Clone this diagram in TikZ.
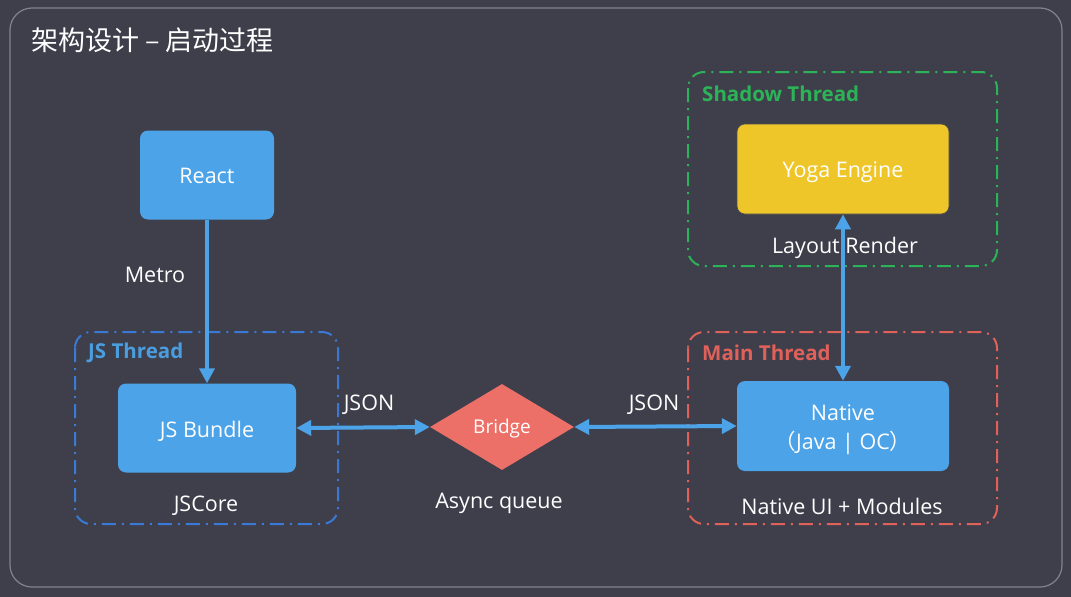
\documentclass[tikz,border=0pt]{standalone}
\usepackage{fontspec}
\setmainfont{Open Sans}
\newfontfamily\cjk{Noto Sans CJK SC}
\usetikzlibrary{shapes.geometric,arrows.meta}
\definecolor{bg}{RGB}{62,63,75}
\definecolor{frame}{RGB}{130,131,142}
\definecolor{boxblue}{RGB}{76,163,232}
\definecolor{arrblue}{RGB}{76,163,232}
\definecolor{yoga}{RGB}{238,198,42}
\definecolor{bridge}{RGB}{236,112,104}
\definecolor{jsc}{RGB}{58,121,214}
\definecolor{jsl}{RGB}{74,158,224}
\definecolor{mainc}{RGB}{224,96,90}
\definecolor{shadowc}{RGB}{45,179,87}
\tikzset{
  box/.style={draw=none,fill=boxblue,rounded corners=8pt,inner sep=0pt},
  btxt/.style={text=white,font=\fontsize{21.5}{29}\selectfont,align=center,inner sep=0pt},
  lbl/.style={text=white,font=\fontsize{21.5}{25}\selectfont,inner sep=0pt},
  grp/.style={line width=2pt,rounded corners=16pt,dash pattern=on 14pt off 6pt on 2pt off 6pt},
  glbl/.style={font=\bfseries\fontsize{20.5}{24}\selectfont,anchor=west,inner sep=0pt},
  conn/.style={draw=arrblue,line width=4pt,-{Triangle[length=15pt,width=15pt]}},
  biconn/.style={draw=arrblue,line width=4pt,{Triangle[length=15pt,width=15pt]}-{Triangle[length=15pt,width=15pt]}}
}
\begin{document}
\begin{tikzpicture}[x=1pt,y=-1pt]
\useasboundingbox (0,0) rectangle (1071,597);
\fill[bg] (0,0) rectangle (1071,597);
\draw[frame,line width=1.2pt,rounded corners=22pt] (10,8) rectangle (1062,587);
\node[anchor=west,text=white,font=\cjk\fontsize{27}{30}\selectfont,inner sep=0pt] (title) at (31,40) {架构设计 – 启动过程};
% groups
\draw[grp,jsc] (75,332) rectangle (338,524);
\node[glbl,text=jsl] (jsl) at (88,353) {JS Thread};
\draw[grp,mainc] (688,332) rectangle (997,524);
\node[glbl,text=mainc] (mainl) at (702,353) {Main Thread};
\draw[grp,shadowc] (688,72) rectangle (997,266);
\node[glbl,text=shadowc] (shadowl) at (702,94) {Shadow Thread};
% nodes
\node[box,minimum width=134pt,minimum height=89pt] (react) at (207,175) {};
\node[btxt] (reacttxt) at ([yshift=-1pt]react.center) {React};
\node[box,minimum width=178pt,minimum height=89pt] (bundle) at (207,428) {};
\node[btxt] (bundletxt) at ([yshift=-3pt]bundle.center) {JS Bundle};
\node[box,minimum width=212pt,minimum height=90pt] (native) at (843,426) {};
\node[btxt] (nativetxt) at ([yshift=-4pt]native.center) {Native\\{\cjk （}Java | OC{\cjk ）}};
\node[box,fill=yoga,draw=black!70,line width=0.6pt,minimum width=212pt,minimum height=90pt] (yoga) at (843,169) {};
\node[btxt] (yogatxt) at ([yshift=-3pt]yoga.center) {Yoga Engine};
\node[diamond,fill=bridge,text=white,minimum width=144pt,minimum height=86pt,inner sep=0pt,aspect=1.67,font=\fontsize{19}{22}\selectfont] (bridge) at (502,427) {};
\node[btxt,font=\fontsize{19}{22}\selectfont] (bridgetxt) at ([yshift=-2pt]bridge.center) {Bridge};
% labels
\node[lbl] (metro) at (155,275) {Metro};
\node[lbl] (jscore) at (206,506) {JSCore};
\node[lbl] (json1) at (369,405) {JSON};
\node[lbl] (json2) at (654,405) {JSON};
\node[lbl] (async) at (499,503) {Async queue};
\node[lbl] (layout) at (845,248) {Layout Render};
\node[lbl] (nui) at (842,506) {Native UI + Modules};
% connectors
\draw[conn] (react.south) -- (bundle.north);
\draw[biconn] (bundle.east) -- (bridge.west);
\draw[biconn] (bridge.east) -- (native.west);
\draw[biconn] (native.north) -- (yoga.south);
\end{tikzpicture}
\end{document}
